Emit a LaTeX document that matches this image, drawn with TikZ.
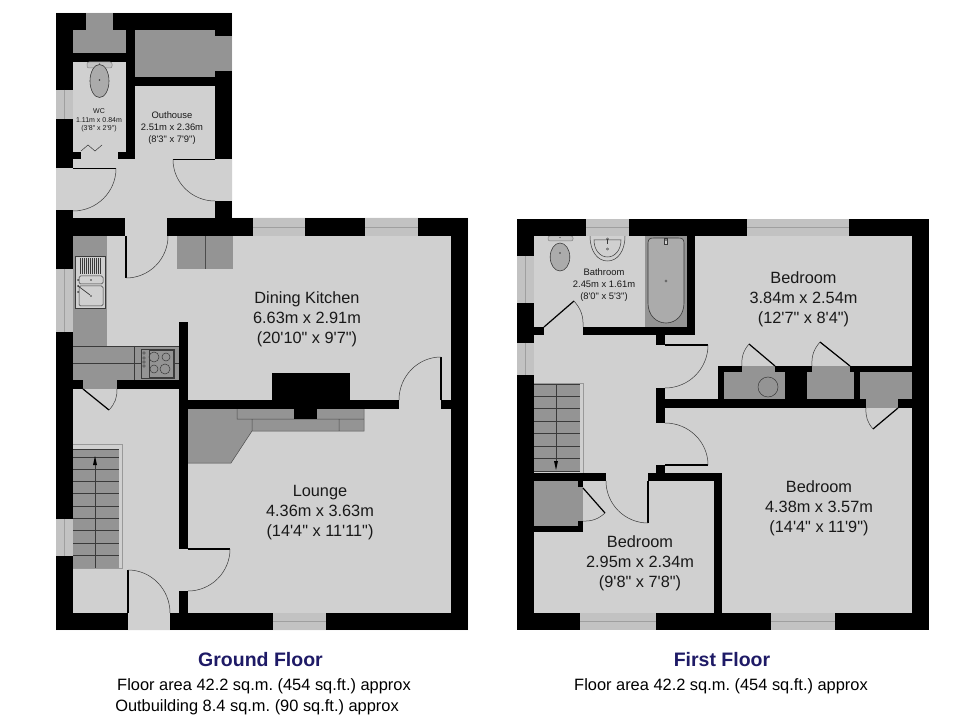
\documentclass[tikz,border=0pt]{standalone}
\usepackage{fontspec}
\setmainfont{Liberation Sans}[Ligatures=TeXOff]
\frenchspacing
\definecolor{floorc}{HTML}{D0D0D0}
\definecolor{unitc}{HTML}{949494}
\definecolor{winc}{HTML}{C2C2C2}
\definecolor{tubc}{HTML}{ABABAB}
\definecolor{linec}{HTML}{3A3A3A}
\definecolor{titlec}{HTML}{1E1A66}
\tikzset{
  floorfill/.style={fill=floorc,draw=none},
  wallfill/.style={fill=black,draw=none},
  unitbox/.style={fill=unitc,draw=none},
  unitline/.style={draw=linec,line width=0.5pt},
  fixture/.style={fill=tubc,draw=linec,line width=0.6pt},
  winbox/.style={fill=winc,draw=none},
  winline/.style={draw=gray!75,line width=0.5pt},
  leaf/.style={draw=black,line width=1.2pt},
  swing/.style={draw=linec,line width=0.5pt},
  roomlabel/.style={align=center,text=black!90,font=\fontsize{16.3}{20.2}\selectfont,inner sep=0pt},
  midlabel/.style={align=center,text=black!90,font=\fontsize{9.4}{12}\selectfont,inner sep=0pt},
  smalllabel/.style={align=center,text=black!90,font=\fontsize{7}{8.6}\selectfont,inner sep=0pt},
  titlelabel/.style={text=titlec,font=\fontsize{19.5}{22}\bfseries\selectfont,inner sep=0pt},
  arealabel/.style={text=black,font=\fontsize{16.4}{19}\selectfont,inner sep=0pt},
}
\newcommand{\wl}[4]{\fill[wallfill] (#1,#2) rectangle (#3,#4);}
\newcommand{\un}[4]{\fill[unitbox] (#1,#2) rectangle (#3,#4);}
% horizontal and vertical windows
\newcommand{\winh}[4]{\fill[winbox] (#1,#2) rectangle (#3,#4); \draw[winline] (#1,{(#2+#4)/2}) -- (#3,{(#2+#4)/2});}
\newcommand{\winv}[4]{\fill[winbox] (#1,#2) rectangle (#3,#4); \draw[winline] ({(#1+#3)/2},#2) -- ({(#1+#3)/2},#4);}
% door: hinge H, leaf end A, closing point B (quarter circle)
\newcommand{\door}[6]{%
  \draw[leaf] (#1,#2) -- (#3,#4);
  \draw[swing] (#3,#4) .. controls ({#3+0.552*(#5-#1)},{#4+0.552*(#6-#2)}) and ({#5+0.552*(#3-#1)},{#6+0.552*(#4-#2)}) .. (#5,#6);}
% cupboard door: hinge, leaf end, strike
\newcommand{\cupd}[7]{%
  \draw[leaf] (#1,#2) -- (#3,#4);
  \draw[swing] (#3,#4) to[bend #7=22] (#5,#6);}
\begin{document}
\begin{tikzpicture}[x=1pt,y=-1pt]
\useasboundingbox (0,0) rectangle (980,727);
\fill[white] (0,0) rectangle (980,727);

%%% GROUND FLOOR
\fill[floorfill] (56,13) -- (232,13) -- (232,218) -- (468,218) -- (468,630) -- (56,630) -- cycle;
% units
\un{73}{30}{126}{53}
\un{86}{13}{113}{30}
\un{135}{30}{215}{77}
\un{215}{36}{232}{71}
\un{73}{236}{107}{346}
\un{73}{346}{179}{380}
\un{83}{380}{117}{389}
\un{177}{236}{233}{269}
\draw[unitline,draw=gray!60!black] (205,236) -- (205,269);
\draw[unitline] (73,363) -- (134,363);
\draw[unitline] (134,346) -- (134,380);
\draw[unitline] (73,346) -- (179,346);
\draw[unitline] (134,363) -- (141,363) (174,363) -- (179,363);
\fill[unitbox] (188,408) -- (252,408) -- (252,431) -- (231,463) -- (188,463) -- cycle;
\un{237}{408}{364}{419}
\un{252}{419}{364}{431}
\draw[unitline,draw=gray!60!black] (237,408) -- (237,419) -- (252,419) (252,419) -- (252,431) -- (231,463) -- (188,463) (252,431) -- (364,431) -- (364,408) (252,419) -- (364,419) (339,419) -- (339,431);
% stairs
\draw[draw=gray!80,line width=0.5pt,fill=floorc] (73,444) -- (122,444) -- (122,568) -- (73,568);
\un{73}{449}{119}{568}
\foreach \yy in {449,457,469,481,493,506,518,530,543,555}{\draw[unitline] (73,\yy) -- (119,\yy);}
\draw[unitline] (95,462) -- (95,568);
\fill[black] (95,456) -- (97,465) -- (93,465) -- cycle;
% walls
\wl{56}{13}{86}{30}
\wl{113}{13}{232}{30}
\wl{215}{30}{232}{36}
\wl{56}{13}{73}{168}
\wl{73}{53}{126}{62}
\wl{126}{30}{135}{159}
\wl{118}{152}{135}{159}
\wl{73}{152}{81}{159}
\wl{135}{77}{215}{86}
\wl{215}{71}{232}{159}
\wl{215}{201}{232}{218}
\wl{56}{210}{73}{630}
\wl{73}{218}{125}{236}
\wl{167}{218}{468}{236}
\wl{451}{218}{468}{630}
\wl{56}{613}{128}{630}
\wl{170}{613}{468}{630}
\wl{73}{380}{83}{389}
\wl{117}{380}{179}{389}
\wl{179}{322}{188}{549}
\wl{179}{591}{188}{613}
\wl{188}{400}{399}{409}
\wl{441}{400}{451}{409}
\wl{272}{373}{350}{400}
\wl{294}{409}{317}{419}
% windows
\winv{56}{90}{73}{119}
\winv{56}{269}{73}{332}
\winv{56}{519}{73}{556}
\winh{253}{218}{305}{236}
\winh{365}{218}{418}{236}
\winh{273}{613}{326}{630}
% doors
\door{215}{159.5}{173}{159.5}{215}{201}
\door{73}{168.5}{116}{168.5}{73}{211}
\door{126}{236}{126}{278}{168}{236}
\door{128}{613}{128}{570}{170}{613}
\door{188}{549}{230}{549}{188}{591}
\door{441}{400}{441}{357}{399}{400}
\cupd{83}{389}{109}{410}{117}{389}{right}
\draw[draw=linec,line width=0.5pt] (81,151) -- (88,145) -- (95,151) -- (102,145);
% WC
\draw[draw=gray,fill=winc,line width=0.5pt,rounded corners=2pt] (87,62) rectangle (112,68);
\draw[fixture] (99.5,81) ellipse [x radius=9.5,y radius=16.5];
\fill[linec] (99.5,80) circle (0.8) (99.5,64) circle (0.7);
% sink
\draw[draw=linec,fill=floorc,line width=0.4pt] (75,256) rectangle (105,308);
\foreach \xx in {80,82,...,101}{\draw[linec,line width=0.5pt] (\xx,258) -- (\xx,274);}
\draw[linec,line width=0.5pt,rounded corners=1.5pt] (79,276) rectangle (103,284);
\draw[linec,line width=0.5pt,rounded corners=1.5pt] (79,286) rectangle (103,306);
\fill[linec] (91,280) circle (0.9) (91,296) circle (0.9) (78,280) circle (1) (78,286) circle (1) (78,292) circle (1);
\draw[linec,line width=0.7pt] (78,286) -- (90,295);
% hob
\draw[unitline,fill=unitc] (141,349) rectangle (174,378);
\draw[unitline] (149,350) rectangle (173,377);
\foreach \yy in {353,358,362,366}{\draw[linec,line width=0.4pt] (144,\yy) circle (1.3);}
\draw[linec,line width=0.5pt] (154,357) circle (5) (166,357) circle (4) (154,369) circle (4) (165,369) circle (5);

%%% FIRST FLOOR
\fill[floorfill] (517,219) rectangle (929,630);
% bath
\un{645}{236}{687}{327}
\draw[fixture] (648,243) .. controls (648,239) and (650,238) .. (654,238) -- (678,238) .. controls (682,238) and (684,239) .. (684,243) -- (684,303) .. controls (684,315) and (676,323) .. (666,323) .. controls (656,323) and (648,315) .. (648,303) -- cycle;
\fill[floorc,draw=linec,line width=0.4pt] (666,281) circle (1.2);
\draw[linec,fill=floorc,line width=0.4pt] (664.5,238) rectangle (667.5,244);
\fill[linec] (666,240) circle (0.8);
% basin
\draw[draw=linec,fill=floorc,line width=0.5pt] (590,236) .. controls (590,252) and (598,261) .. (607.5,261) .. controls (617,261) and (625,252) .. (625,236);
\draw[draw=linec,line width=0.5pt] (594,240) .. controls (594,250) and (600,257) .. (607.5,257) .. controls (615,257) and (621,250) .. (621,240) -- cycle;
\draw[linec,line width=0.5pt] (607.5,239) -- (607.5,244);
\draw[linec,line width=0.4pt] (607.5,249) circle (1.1) (607.5,239) circle (1.1);
% bath toilet
\draw[draw=gray,fill=winc,line width=0.5pt,rounded corners=2pt] (548,236) rectangle (573,241);
\draw[fixture] (560,257) ellipse [x radius=9.8,y radius=14];
\fill[linec] (560,253) circle (0.8) (560,237.5) circle (0.7);
% stairs
\draw[draw=gray!80,line width=0.5pt] (534,383) -- (583,383) -- (583,473);
\un{534}{384}{580}{472}
\foreach \yy in {384,396,408,421,433,446,458,471}{\draw[unitline] (534,\yy) -- (580,\yy);}
\draw[unitline] (556,384) -- (556,462);
\fill[black] (556,470) -- (558,461) -- (554,461) -- cycle;
% cupboards
\un{534}{481}{583}{526}
\un{724}{372}{785}{399}
\un{742}{366}{775}{372}
\un{807}{372}{854}{399}
\un{812}{366}{850}{372}
\un{860}{372}{912}{399}
\un{866}{399}{898}{408}
\draw[linec,line width=0.5pt] (768,387) circle (10);
% walls
\wl{517}{219}{534}{630}
\wl{517}{219}{929}{236}
\wl{912}{219}{929}{630}
\wl{517}{613}{929}{630}
\wl{534}{327}{544}{335}
\wl{583}{327}{695}{335}
\wl{687}{236}{695}{335}
\wl{656}{335}{665}{345}
\wl{656}{388}{665}{423}
\wl{665}{399}{866}{408}
\wl{898}{399}{912}{408}
\wl{656}{465}{665}{473}
\wl{648}{473}{722}{481}
\wl{714}{473}{722}{613}
\wl{534}{473}{606}{481}
\wl{534}{526}{583}{532}
\wl{578}{481}{583}{487}
\wl{578}{521}{583}{526}
\wl{718}{366}{742}{372}
\wl{775}{366}{812}{372}
\wl{850}{366}{912}{372}
\wl{718}{366}{724}{400}
\wl{785}{372}{807}{400}
\wl{854}{372}{860}{400}
% windows
\winh{586}{219}{629}{236}
\winh{747}{219}{849}{236}
\winv{517}{256}{534}{303}
\winv{517}{343}{534}{375}
\winh{580}{613}{656}{630}
\winh{771}{613}{835}{630}
% doors
\cupd{544}{327}{574}{301}{583}{327}{left}
\door{665}{345}{708}{345}{665}{388}
\door{665}{465}{708}{465}{665}{423}
\door{648}{481}{648}{523}{606}{481}
\cupd{583}{488}{605}{513}{583}{521}{left}
\cupd{775}{366}{749}{344}{742}{366}{right}
\cupd{850}{366}{820}{342}{812}{366}{right}
\cupd{898}{408}{873}{429}{866}{408}{left}

%%% LABELS
\node[smalllabel] (wc) at (99,120.5) {WC\\1.11m x 0.84m\\(3'8" x 2'9")};
\node[midlabel] (outhouse) at (172,128.5) {Outhouse\\2.51m x 2.36m\\(8'3" x 7'9")};
\node[roomlabel] (dining) at (307,319) {Dining Kitchen\\6.63m x 2.91m\\(20'10" x 9'7")};
\node[roomlabel] (lounge) at (320,512.5) {Lounge\\4.36m x 3.63m\\(14'4" x 11'11")};
\node[midlabel] (bathroom) at (604,285.5) {Bathroom\\2.45m x 1.61m\\(8'0" x 5'3")};
\node[roomlabel] (bed1) at (803.5,299) {Bedroom\\3.84m x 2.54m\\(12'7" x 8'4")};
\node[roomlabel] (bed2) at (819,508.5) {Bedroom\\4.38m x 3.57m\\(14'4" x 11'9")};
\node[roomlabel] (bed3) at (640,563.5) {Bedroom\\2.95m x 2.34m\\(9'8" x 7'8")};
\node[titlelabel] (gf) at (260.5,660) {Ground Floor};
\node[titlelabel] (ff) at (722,660) {First Floor};
\node[arealabel] (gfa) at (264,686) {Floor area 42.2 sq.m. (454 sq.ft.) approx};
\node[arealabel] (gfb) at (257,707.5) {Outbuilding 8.4 sq.m. (90 sq.ft.) approx};
\node[arealabel] (ffa) at (721,686) {Floor area 42.2 sq.m. (454 sq.ft.) approx};
\end{tikzpicture}
\end{document}
